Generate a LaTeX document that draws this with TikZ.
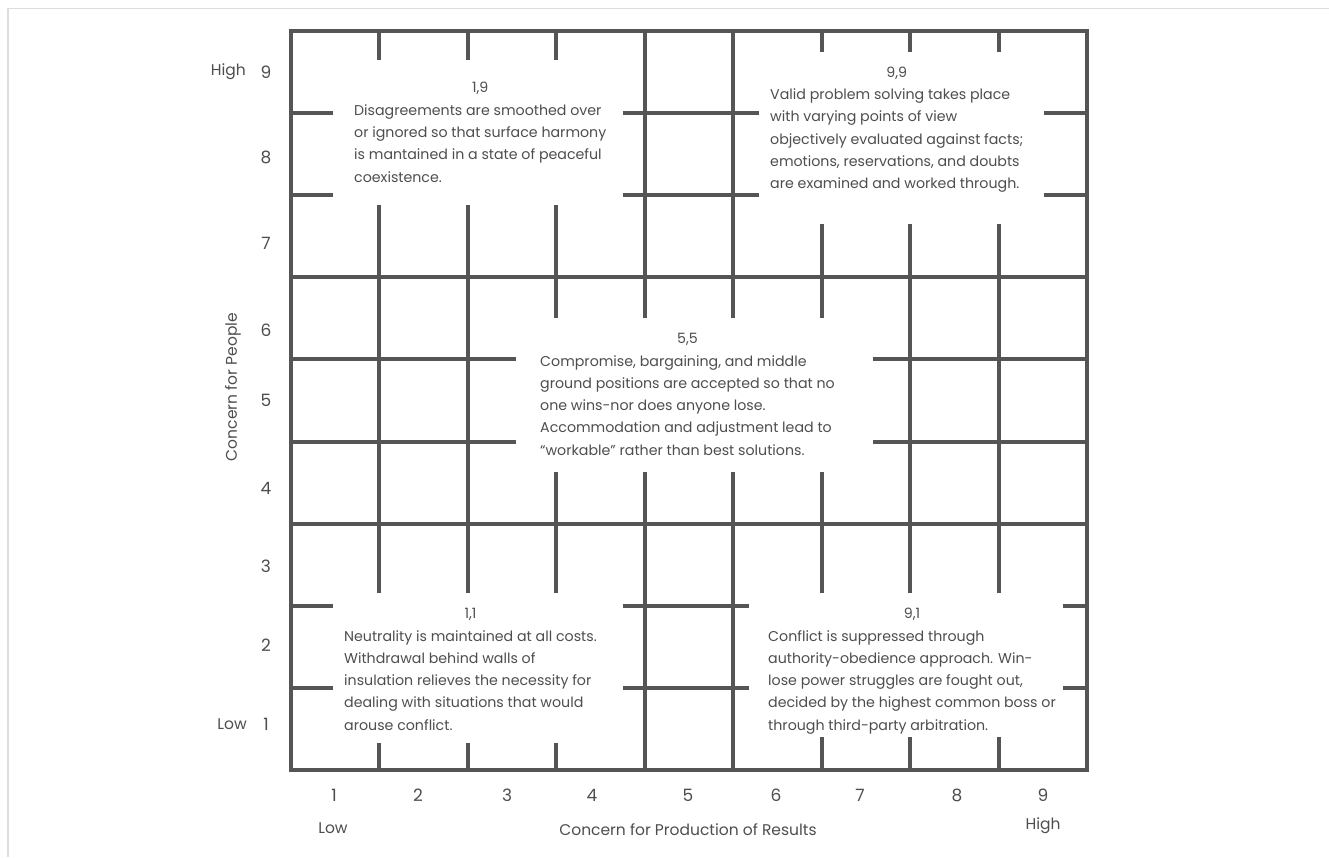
\documentclass[tikz,border=0pt]{standalone}
\usepackage{fontspec}
\setmainfont{Poppins}
\definecolor{gridc}{HTML}{555555}
\definecolor{txtc}{HTML}{4E4E4E}
\definecolor{framec}{HTML}{DDDDDD}
\begin{document}
\begin{tikzpicture}[x=1pt,y=-1pt,
  gridline/.style={draw=gridc,line width=4pt},
  mask/.style={fill=white,draw=none,inner sep=0pt,outer sep=0pt},
  body/.style={inner sep=0pt,anchor=west,text=txtc,font=\fontsize{14.2}{22.3}\selectfont},
  axisnum/.style={inner sep=0pt,text=txtc,font=\fontsize{17}{20}\selectfont},
  axislab/.style={inner sep=0pt,text=txtc,font=\fontsize{15.5}{18}\selectfont}]
\useasboundingbox (0,0) rectangle (1329,857);
\fill[white] (0,0) rectangle (1329,857);
\draw[framec,line width=1.5pt] (8,857) -- (8,8.5) -- (1329,8.5);
% full grid
\foreach \i in {1,...,8}{
  \draw[gridline] ({291+88.444*\i},31) -- ({291+88.444*\i},770);
  \draw[gridline] (291,{31+82.111*\i}) -- (1087,{31+82.111*\i});
}
% masks
\node[mask,minimum width=290pt,minimum height=145pt] (m19) at (478,132.5) {};
\node[mask,minimum width=285pt,minimum height=172pt] (m99) at (901.5,138) {};
\node[mask,minimum width=357pt,minimum height=154pt] (m55) at (694.5,395) {};
\node[mask,minimum width=290pt,minimum height=150pt] (m11) at (478,668) {};
\node[mask,minimum width=314pt,minimum height=144pt] (m91) at (906,665) {};
% border
\draw[gridline] (291,31) rectangle (1087,770);
% texts
\node[body] (t19) at (354,133) {\begin{tabular}{@{}l@{}}\multicolumn{1}{@{}c@{}}{1,9}\\
Disagreements are smoothed over\\
or ignored so that surface harmony\\
is mantained in a state of peaceful\\
coexistence.\end{tabular}};
\node[body] (t99) at (770,128.5) {\begin{tabular}{@{}l@{}}\multicolumn{1}{@{}c@{}}{9,9}\\
Valid problem solving takes place\\
with varying points of view\\
objectively evaluated against facts;\\
emotions, reservations, and doubts\\
are examined and worked through.\end{tabular}};
\node[body] (t55) at (540,395) {\begin{tabular}{@{}l@{}}\multicolumn{1}{@{}c@{}}{5,5}\\
Compromise, bargaining, and middle\\
ground positions are accepted so that no\\
one wins-nor does anyone lose.\\
Accommodation and adjustment lead to\\
“workable” rather than best solutions.\end{tabular}};
\node[body] (t11) at (344,670) {\begin{tabular}{@{}l@{}}\multicolumn{1}{@{}c@{}}{1,1}\\
Neutrality is maintained at all costs.\\
Withdrawal behind walls of\\
insulation relieves the necessity for\\
dealing with situations that would\\
arouse conflict.\end{tabular}};
\node[body] (t91) at (768,670) {\begin{tabular}{@{}l@{}}\multicolumn{1}{@{}c@{}}{9,1}\\
Conflict is suppressed through\\
authority-obedience approach. Win-\\
lose power struggles are fought out,\\
decided by the highest common boss or\\
through third-party arbitration.\end{tabular}};
% row numbers
\foreach \n/\yy in {9/72,8/157,7/243,6/330,5/400,4/488,3/566,2/645,1/724}{
  \node[axisnum] (r\n) at (266,\yy) {\n};
}
\foreach \n/\xx in {1/334,2/418,3/507,4/592,5/688,6/776,7/860,8/957,9/1043}{
  \node[axisnum] (c\n) at (\xx,795) {\n};
}
\node[axislab,anchor=east] (yhigh) at (246,72) {High};
\node[axislab,anchor=east] (ylow) at (247,724) {Low};
\node[axislab,rotate=90] (ylab) at (233,387) {Concern for People};
\node[axislab] (xlow) at (333,828) {Low};
\node[axislab] (xhigh) at (1043,826) {High};
\node[axislab] (xlab) at (688,830) {Concern for Production of Results};
\end{tikzpicture}
\end{document}
